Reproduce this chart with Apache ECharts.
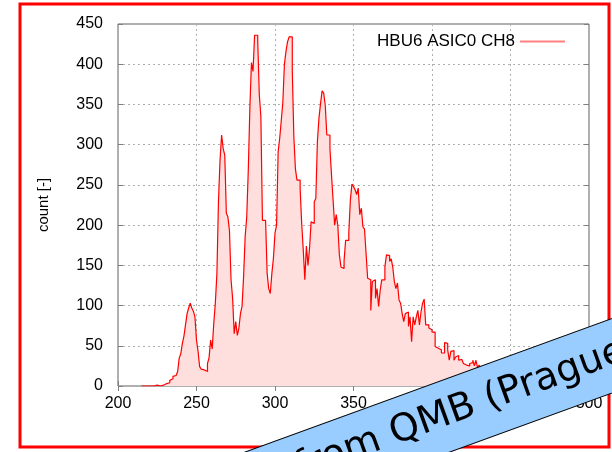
<!DOCTYPE html>
<html>
<head>
<meta charset="utf-8">
<script src="https://cdn.jsdelivr.net/npm/echarts@6/dist/echarts.min.js"></script>
<style>
  html, body { margin: 0; padding: 0; background: #fff; }
  #chart { width: 612px; height: 452px; }
</style>
</head>
<body>
<div id="chart"></div>
<script>
// histogram: one bin per ADC count, starting at firstBin
const seriesName = 'HBU6 ASIC0 CH8'
const firstBin = 215
const binWidth = 1
const counts = [
  0, 0, 0, 0, 2, 0, 1, 0, 2, 1,            // 215-224
  2, 0, 2, 1, 2, 3, 5, 4, 7, 9,            // 225-234
  12, 13, 14, 18, 35, 40, 53, 62, 76, 90,  // 235-244
  97, 103, 97, 93, 86, 57, 43, 24, 21, 20, // 245-254
  21, 18, 28, 35, 57, 46, 78, 103, 140, 230, // 255-264
  281, 312, 295, 287, 215, 210, 193, 132, 109, 65, // 265-274
  80, 63, 72, 90, 99, 136, 186, 210, 269, 346,     // 275-284
  402, 391, 436, 436, 429, 362, 335, 206, 206, 204, // 285-294
  140, 121, 115, 140, 159, 190, 200, 291, 308, 330, // 295-304
  353, 400, 416, 428, 434, 434, 393, 310, 270, 256, // 305-314
  256, 246, 202, 169, 132, 174, 150, 171, 204, 202, // 315-324
  229, 233, 304, 333, 351, 367, 364, 349, 312, 312, // 325-334
  295, 262, 231, 200, 213, 200, 163, 148, 146, 156, // 335-344
  181, 181, 190, 231, 251, 248, 244, 238, 246, 213, // 345-354
  221, 198, 195, 165, 134, 132, 94, 130, 132, 109,  // 355-364
  121, 99, 119, 132, 132, 148, 163, 162, 155, 158,  // 365-374
  148, 130, 121, 128, 107, 103, 90, 80, 90, 92,     // 375-384
  74, 86, 55, 86, 76, 86, 94, 76, 92, 103,          // 385-394
  108, 76, 76, 72, 70, 67, 67, 49, 47, 45,          // 395-404
  45, 41, 41, 54, 53, 45, 32, 43, 44, 32,           // 405-414
  36, 38, 32, 33, 33, 28, 26, 25, 25, 28,           // 415-424
  29, 32, 25, 32, 23, 26, 23, 22, 20, 21,           // 425-434
  18, 19, 17, 16, 15, 16, 14, 13, 12, 12,           // 435-444
  10, 11, 9, 8, 8, 7, 6, 6, 5, 4,                   // 445-454
  4, 3, 3, 2, 2, 1                                  // 455-460
]
const xTicks = [200, 250, 300, 350, 400, 450, 500]
const yTicks = [0, 50, 100, 150, 200, 250, 300, 350, 400, 450]
const bannerText = 'Data from QMB (Prague)'

const points = counts.map((c, i) => [firstBin + i * binWidth, c])
points.push([firstBin + counts.length * binWidth, counts[counts.length - 1]])

const font = '"Liberation Sans", Arial, sans-serif'
const chart = echarts.init(document.getElementById('chart'), null, { renderer: 'canvas' })

const gridLine = { show: true, lineStyle: { color: '#b0b0b0', type: [2, 3], width: 1 } }
const tickIn = { show: true, inside: true, length: 5, lineStyle: { color: '#808080' } }

const option = {
  backgroundColor: '#ffffff',
  animation: false,
  grid: {
    left: 118, right: 23, top: 24, bottom: 66,
    show: true, borderColor: '#606060', borderWidth: 1, backgroundColor: 'transparent'
  },
  legend: {
    data: [{ name: seriesName, icon: 'rect', itemStyle: { color: '#ff8080' } }],
    right: 42, top: 28,
    align: 'right',
    itemWidth: 45, itemHeight: 2, itemGap: 8,
    textStyle: { fontFamily: font, fontSize: 17, color: '#000' }
  },
  xAxis: [{
    type: 'value', min: xTicks[0], max: xTicks[xTicks.length - 1], interval: 50,
    axisLine: { show: false },
    axisTick: tickIn,
    splitLine: gridLine,
    axisLabel: { color: '#000', fontFamily: font, fontSize: 16, margin: 10 }
  }, {
    type: 'value', position: 'top', min: xTicks[0], max: xTicks[xTicks.length - 1], interval: 50,
    axisLine: { show: false }, axisTick: tickIn, axisLabel: { show: false }, splitLine: { show: false }
  }],
  yAxis: [{
    type: 'value', min: yTicks[0], max: yTicks[yTicks.length - 1], interval: 50,
    name: 'count [-]', nameLocation: 'middle', nameGap: 67, nameRotate: 90,
    nameTextStyle: { fontFamily: font, fontSize: 15, color: '#000' },
    axisLine: { show: false },
    axisTick: tickIn,
    splitLine: gridLine,
    axisLabel: { color: '#000', fontFamily: font, fontSize: 16, margin: 15 }
  }, {
    type: 'value', position: 'right', min: yTicks[0], max: yTicks[yTicks.length - 1], interval: 50,
    axisLine: { show: false }, axisTick: tickIn, axisLabel: { show: false }, splitLine: { show: false }
  }],
  series: [{
    name: seriesName,
    type: 'line',
    step: 'end',
    data: points,
    symbol: 'none',
    lineStyle: { color: '#ff0000', width: 1.2 },
    itemStyle: { color: '#ff0000' },
    areaStyle: { color: '#ffdede', opacity: 1 },
    z: 3
  }],
  graphic: [{
    type: 'rect',
    shape: { x: 20, y: 4, width: 589, height: 443 },
    style: { fill: 'none', stroke: '#ff0000', lineWidth: 3 },
    z: 100
  }, {
    type: 'group',
    x: 391, y: 433,
    rotation: 20 * Math.PI / 180,
    children: [{
      type: 'rect',
      z: 110,
      shape: { x: -400, y: -32, width: 800, height: 70 },
      style: { fill: '#99ccff', stroke: '#000', lineWidth: 1 }
    }, {
      type: 'text',
      z: 111,
      x: -204, y: 2,
      style: {
        text: bannerText, fill: '#000',
        font: '38px "DejaVu Sans", sans-serif',
        align: 'left', verticalAlign: 'middle'
      }
    }]
  }]
}

chart.setOption(option)
</script>
</body>
</html>
